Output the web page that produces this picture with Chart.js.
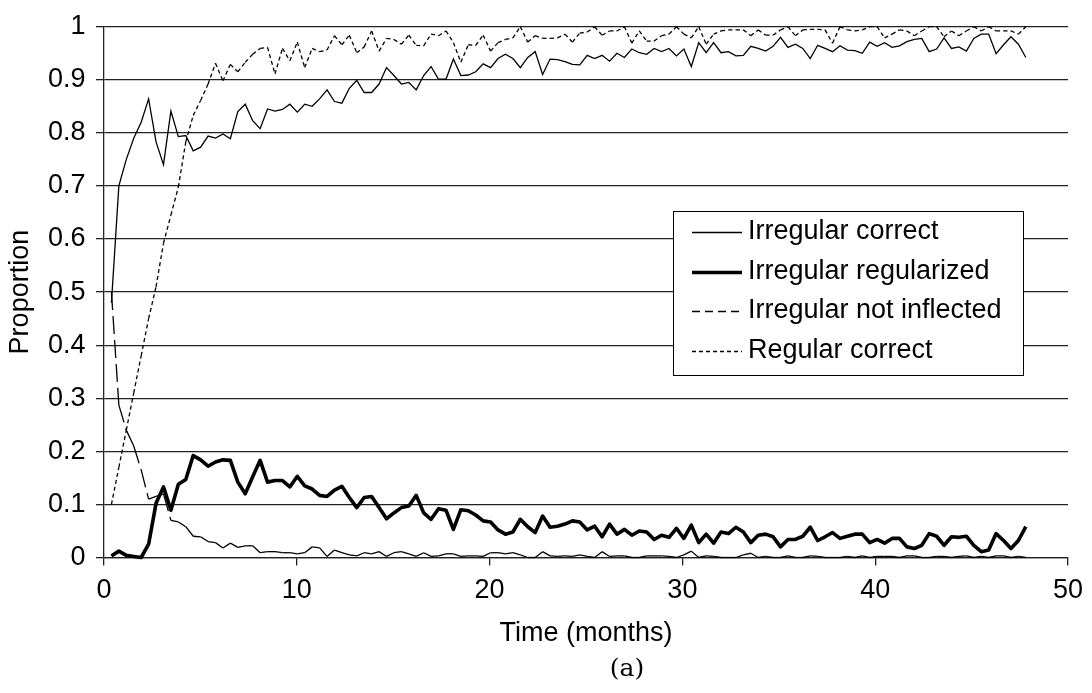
<!DOCTYPE html>
<html>
<head>
<meta charset="utf-8">
<script src="https://cdn.jsdelivr.net/npm/chart.js@4.4.0/dist/chart.umd.min.js"></script>
<style>
  html, body { margin: 0; padding: 0; background: #fff; }
  #wrap { width: 1092px; height: 693px; }
</style>
</head>
<body>
<div id="wrap"><canvas id="c" width="1092" height="693"></canvas></div>
<script>
// ---- Data ----
const seriesNames = ['Irregular correct', 'Irregular regularized', 'Irregular not inflected', 'Regular correct'];
const xTickLabels = [0, 10, 20, 30, 40, 50];
const yTickLabels = [0, 0.1, 0.2, 0.3, 0.4, 0.5, 0.6, 0.7, 0.8, 0.9, 1];
const caption = '(a)';

// samples are taken at a regular interval of ~0.3856 months (124 samples)
const sampleCount = 124;
const sampleInterval = 0.3856;
const months = Array.from({ length: sampleCount }, (_, i) => +((i + 1) * sampleInterval).toFixed(3));

const irregularCorrect = [
  0.48, 0.70, 0.75, 0.79, 0.82, 0.864, 0.783, 0.740, 0.841, 0.793,
  0.795, 0.766, 0.773, 0.794, 0.790, 0.798, 0.789, 0.840, 0.854, 0.823,
  0.808, 0.845, 0.841, 0.844, 0.854, 0.839, 0.854, 0.850, 0.864, 0.881,
  0.859, 0.856, 0.884, 0.899, 0.876, 0.876, 0.892, 0.923, 0.908, 0.892,
  0.895, 0.881, 0.908, 0.925, 0.901, 0.901, 0.939, 0.908, 0.909, 0.915,
  0.930, 0.923, 0.940, 0.948, 0.940, 0.923, 0.942, 0.953, 0.910, 0.939,
  0.938, 0.934, 0.929, 0.928, 0.946, 0.940, 0.946, 0.935, 0.950, 0.942,
  0.958, 0.951, 0.948, 0.959, 0.953, 0.959, 0.945, 0.958, 0.925, 0.970,
  0.951, 0.970, 0.951, 0.953, 0.945, 0.946, 0.963, 0.959, 0.954, 0.963,
  0.980, 0.961, 0.967, 0.959, 0.940, 0.965, 0.959, 0.953, 0.964, 0.956,
  0.955, 0.950, 0.971, 0.963, 0.970, 0.961, 0.964, 0.972, 0.976, 0.978,
  0.953, 0.958, 0.979, 0.959, 0.962, 0.954, 0.978, 0.986, 0.986, 0.949,
  0.966, 0.981, 0.967, 0.942
];

const irregularRegularized = [
  0.003, 0.012, 0.004, 0.002, 0.000, 0.025, 0.102, 0.133, 0.089, 0.138,
  0.147, 0.192, 0.184, 0.172, 0.180, 0.184, 0.183, 0.142, 0.120, 0.152,
  0.183, 0.142, 0.145, 0.145, 0.133, 0.153, 0.135, 0.129, 0.117, 0.115,
  0.127, 0.134, 0.113, 0.094, 0.113, 0.115, 0.094, 0.073, 0.084, 0.094,
  0.097, 0.117, 0.084, 0.072, 0.092, 0.089, 0.053, 0.090, 0.088, 0.080,
  0.069, 0.067, 0.052, 0.044, 0.048, 0.072, 0.058, 0.047, 0.078, 0.057,
  0.059, 0.063, 0.069, 0.067, 0.052, 0.059, 0.039, 0.063, 0.044, 0.053,
  0.042, 0.050, 0.048, 0.034, 0.042, 0.038, 0.055, 0.036, 0.061, 0.028,
  0.044, 0.027, 0.048, 0.045, 0.057, 0.048, 0.028, 0.042, 0.044, 0.039,
  0.020, 0.034, 0.034, 0.040, 0.057, 0.032, 0.039, 0.047, 0.036, 0.040,
  0.044, 0.044, 0.028, 0.034, 0.027, 0.036, 0.036, 0.020, 0.017, 0.023,
  0.045, 0.040, 0.023, 0.039, 0.038, 0.040, 0.023, 0.011, 0.014, 0.045,
  0.032, 0.017, 0.032, 0.058
];

const irregularNotInflected = [
  0.50, 0.287, 0.240, 0.210, 0.165, 0.110, 0.115, 0.120, 0.070, 0.067,
  0.058, 0.040, 0.039, 0.030, 0.028, 0.018, 0.027, 0.019, 0.022, 0.022,
  0.009, 0.011, 0.011, 0.009, 0.009, 0.007, 0.009, 0.020, 0.018, 0.002,
  0.014, 0.009, 0.005, 0.003, 0.009, 0.007, 0.011, 0.002, 0.009, 0.011,
  0.007, 0.002, 0.009, 0.002, 0.003, 0.007, 0.007, 0.002, 0.003, 0.003,
  0.002, 0.009, 0.009, 0.007, 0.009, 0.005, 0.000, 0.000, 0.011, 0.003,
  0.002, 0.003, 0.002, 0.005, 0.002, 0.000, 0.011, 0.002, 0.003, 0.003,
  0.000, 0.000, 0.003, 0.003, 0.003, 0.002, 0.000, 0.005, 0.012, 0.000,
  0.003, 0.002, 0.000, 0.000, 0.000, 0.005, 0.008, 0.000, 0.002, 0.000,
  0.000, 0.003, 0.000, 0.000, 0.003, 0.002, 0.000, 0.000, 0.000, 0.002,
  0.000, 0.003, 0.000, 0.002, 0.002, 0.002, 0.000, 0.003, 0.003, 0.000,
  0.000, 0.002, 0.002, 0.000, 0.002, 0.003, 0.000, 0.002, 0.000, 0.003,
  0.003, 0.000, 0.002, 0.000
];

const regularCorrect = [
  0.10, 0.17, 0.24, 0.31, 0.38, 0.45, 0.51, 0.592, 0.645, 0.698,
  0.783, 0.833, 0.861, 0.892, 0.931, 0.898, 0.929, 0.915, 0.933, 0.948,
  0.959, 0.961, 0.911, 0.959, 0.936, 0.971, 0.923, 0.959, 0.953, 0.956,
  0.983, 0.966, 0.984, 0.951, 0.962, 0.992, 0.954, 0.978, 0.976, 0.967,
  0.984, 0.965, 0.964, 0.986, 0.983, 0.992, 0.970, 0.933, 0.966, 0.965,
  0.984, 0.954, 0.970, 0.976, 0.979, 1.000, 0.971, 0.983, 0.978, 0.978,
  0.979, 0.986, 0.971, 0.988, 0.990, 1.000, 0.984, 0.992, 0.992, 1.000,
  0.969, 0.992, 0.973, 0.973, 0.983, 0.986, 1.000, 0.986, 0.979, 1.000,
  0.967, 0.986, 0.992, 0.994, 0.994, 0.994, 0.983, 0.994, 0.984, 0.984,
  0.994, 1.000, 0.983, 0.994, 0.995, 0.995, 0.994, 0.969, 1.000, 0.994,
  0.992, 0.994, 1.000, 1.000, 0.979, 0.986, 0.994, 0.992, 0.983, 0.992,
  1.000, 1.000, 0.981, 0.992, 0.983, 0.992, 1.000, 0.992, 1.000, 0.992,
  0.992, 0.992, 0.986, 1.000
];

// ---- Chart ----
const SANS = "'Liberation Sans', Arial, Helvetica, sans-serif";
const FONT_SIZE = 27;
const toPoints = arr => arr.map((v, i) => ({ x: months[i], y: v }));
// restart the dash pattern at every sample (each segment stroked on its own)
const restartDash = { borderDashOffset: c => (c.p0DataIndex % 2) * 0.001 };

const datasets = [
  { label: seriesNames[0], data: toPoints(irregularCorrect), borderColor: '#000', borderWidth: 1.3, legendDash: [] },
  { label: seriesNames[1], data: toPoints(irregularRegularized), borderColor: '#000', borderWidth: 3.6, borderJoinStyle: 'round', legendDash: [] },
  { label: seriesNames[2], data: toPoints(irregularNotInflected), borderColor: '#000', borderWidth: 1.3, borderDash: [18, 6], segment: restartDash, legendDash: [8, 5] },
  { label: seriesNames[3], data: toPoints(regularCorrect), borderColor: '#000', borderWidth: 1.3, borderDash: [4, 3], segment: restartDash, legendDash: [4, 3] }
].map(d => Object.assign({ pointRadius: 0, tension: 0, fill: false, clip: false }, d));

const boxLegend = {
  id: 'boxLegend',
  afterDatasetsDraw(chart) {
    const ctx = chart.ctx;
    const box = { left: 673.5, top: 211.5, width: 350, height: 164, row: 39.5, first: 20.5, sx: 692, sLen: 50, tx: 748 };
    ctx.save();
    ctx.fillStyle = '#fff';
    ctx.fillRect(box.left, box.top, box.width, box.height);
    ctx.strokeStyle = '#000';
    ctx.lineWidth = 1;
    ctx.strokeRect(box.left, box.top, box.width, box.height);
    chart.data.datasets.forEach((ds, i) => {
      const y = box.top + box.first + i * box.row;
      ctx.beginPath();
      ctx.setLineDash(ds.legendDash || []);
      ctx.lineWidth = ds.borderWidth;
      ctx.strokeStyle = ds.borderColor;
      ctx.moveTo(box.sx, Math.round(y) + 0.5);
      ctx.lineTo(box.sx + box.sLen, Math.round(y) + 0.5);
      ctx.stroke();
      ctx.setLineDash([]);
      ctx.fillStyle = '#000';
      ctx.font = FONT_SIZE + 'px ' + SANS;
      ctx.textBaseline = 'middle';
      ctx.textAlign = 'left';
      ctx.fillText(ds.label, box.tx, y);
    });
    ctx.restore();
  }
};

const captionPlugin = {
  id: 'caption',
  afterDraw(chart) {
    const ctx = chart.ctx;
    ctx.save();
    ctx.fillStyle = '#000';
    ctx.font = "25px 'DejaVu Serif', 'Liberation Serif', serif";
    ctx.textAlign = 'center';
    ctx.textBaseline = 'middle';
    ctx.fillText(caption, 627, 669);
    ctx.restore();
  }
};

new Chart(document.getElementById('c'), {
  type: 'line',
  data: { datasets },
  plugins: [boxLegend, captionPlugin],
  options: {
    responsive: false,
    devicePixelRatio: 1,
    animation: false,
    layout: { padding: { left: 0, right: 20.5, top: 24, bottom: 0 } },
    plugins: { legend: { display: false }, tooltip: { enabled: false } },
    scales: {
      x: {
        type: 'linear',
        min: xTickLabels[0],
        max: xTickLabels[xTickLabels.length - 1],
        afterBuildTicks: s => { s.ticks = xTickLabels.map(v => ({ value: v })); },
        ticks: { color: '#000', font: { family: SANS, size: FONT_SIZE }, padding: 9, maxRotation: 0,
                 callback: v => String(v) },
        grid: { display: true, drawOnChartArea: false, drawTicks: true, tickLength: 8, color: '#222', lineWidth: 1.3 },
        border: { display: true, color: '#222', width: 1.3 },
        title: { display: true, text: 'Time (months)', color: '#000', font: { family: SANS, size: FONT_SIZE }, padding: { top: 0, bottom: 43 } },
        afterFit: s => { s.height = 135.5; }
      },
      y: {
        min: 0,
        max: 1,
        afterBuildTicks: s => { s.ticks = yTickLabels.map(v => ({ value: v })); },
        ticks: { color: '#000', font: { family: SANS, size: FONT_SIZE }, padding: 10.5,
                 callback: v => String(Number(v.toFixed(1))) },
        grid: { color: '#222', lineWidth: 1.3, tickLength: 8 },
        border: { display: true, color: '#222', width: 1.3 },
        title: { display: true, text: 'Proportion', color: '#000', font: { family: SANS, size: FONT_SIZE }, padding: { top: 4, bottom: 0 } },
        afterFit: s => { s.width = 104; }
      }
    }
  }
});
</script>
</body>
</html>
